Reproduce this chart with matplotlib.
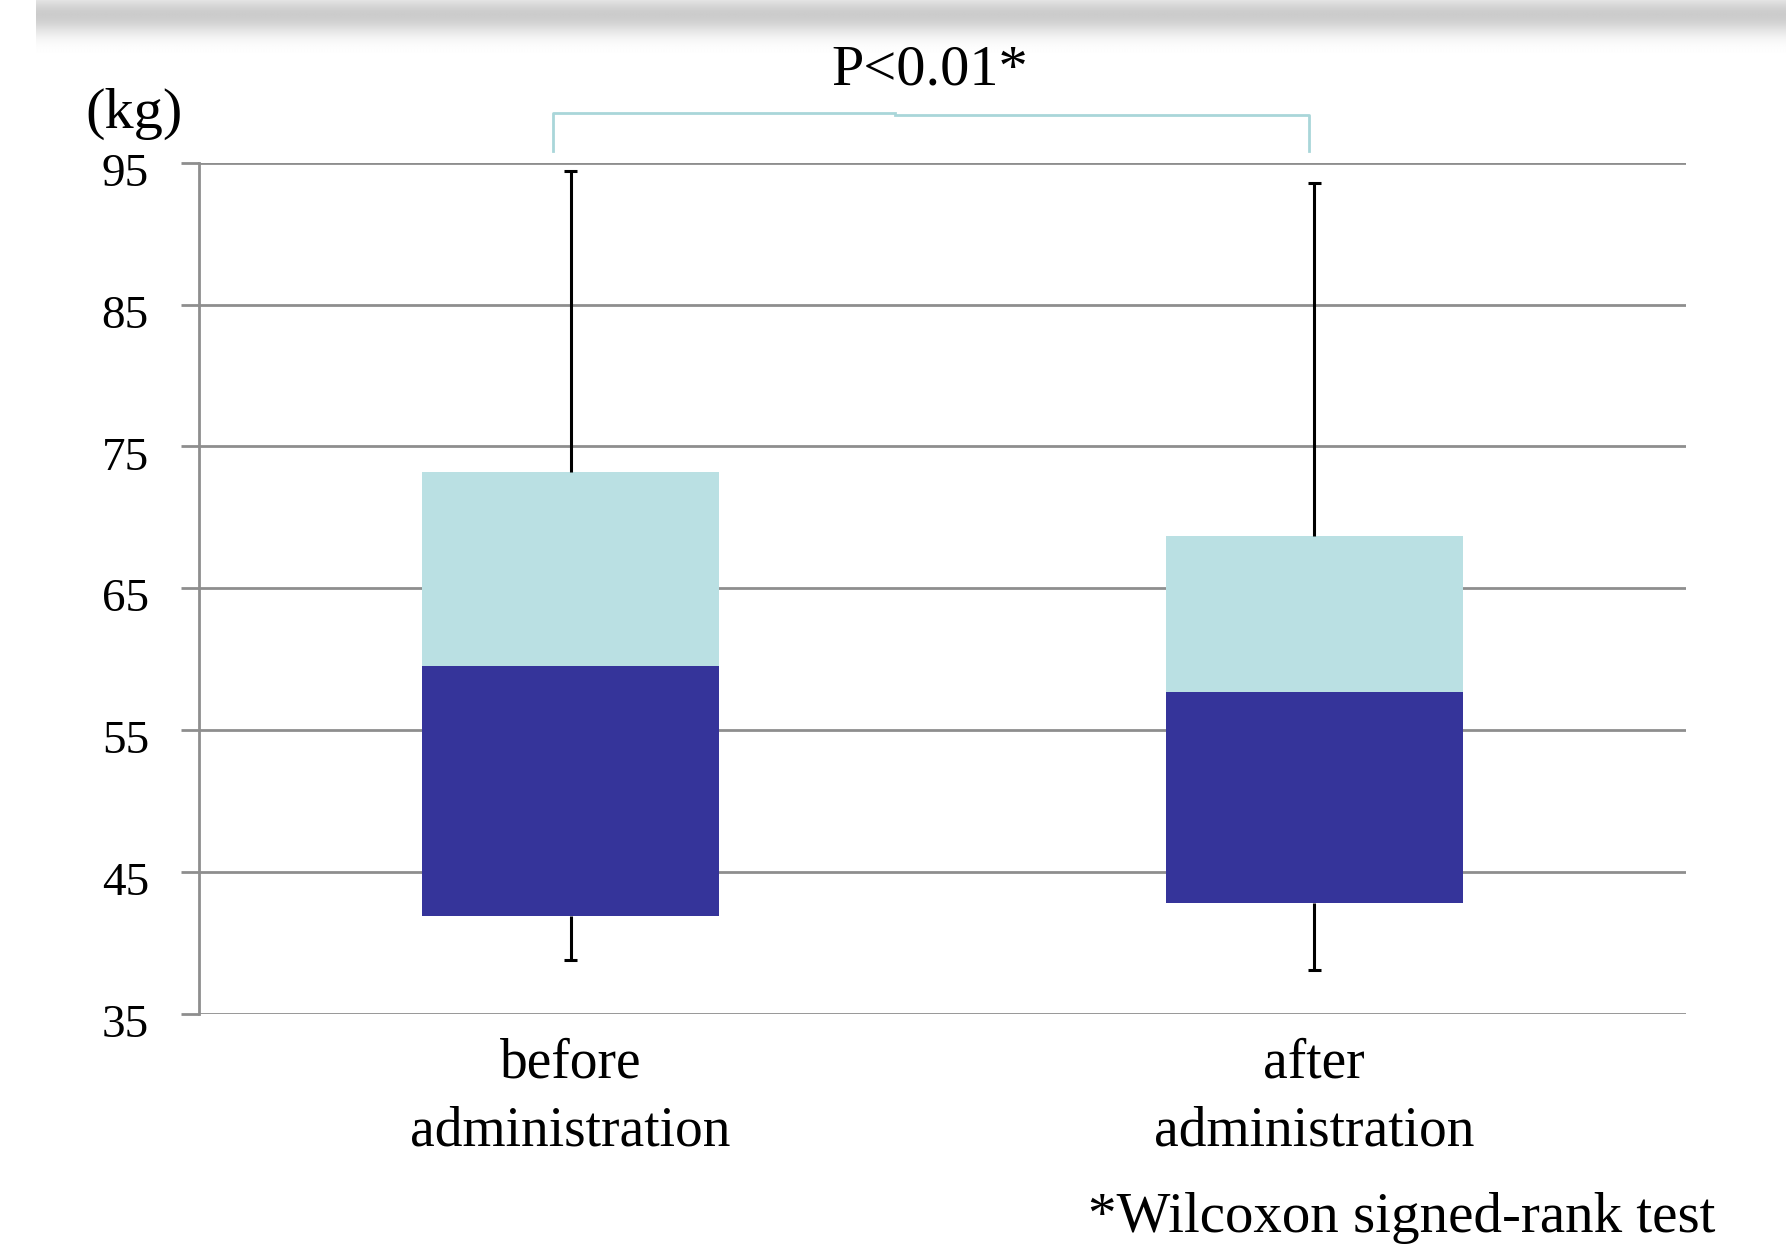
import matplotlib.pyplot as plt
import matplotlib.transforms as mtransforms
import numpy as np

# grip strength (kg) before / after administration
groups = ['before\nadministration', 'after\nadministration']
whisker_low = [38.8, 38.1]
q1 = [41.9, 42.8]
median = [59.5, 57.7]
q3 = [73.2, 68.7]
whisker_high = [94.4, 93.6]
yticks = [35, 45, 55, 65, 75, 85, 95]

dark = '#35349a'
light = '#bae0e3'
grid_gray = '#8e8e8e'

plt.rcParams['font.family'] = ['Liberation Serif', 'DejaVu Serif']

fig = plt.figure(figsize=(17.86, 12.45), dpi=100)
ax = fig.add_axes([0.1114, 0.1858, 0.8326, 0.6834])

x = np.arange(len(groups))
lower = np.array(median) - np.array(q1)
upper = np.array(q3) - np.array(median)
ax.bar(x, lower, bottom=q1, width=0.4, color=dark, zorder=3)
ax.bar(x, upper, bottom=median, width=0.4, color=light, zorder=3)

# whiskers with short caps
ax.vlines(x, q3, whisker_high, color='black', lw=2.2, zorder=4)
ax.vlines(x, whisker_low, q1, color='black', lw=2.2, zorder=4)
ax.hlines(whisker_high, x - 0.009, x + 0.009, color='black', lw=2.2, zorder=4)
ax.hlines(whisker_low, x - 0.009, x + 0.009, color='black', lw=2.2, zorder=4)

ax.set_xlim(-0.5, 1.5)
ax.set_ylim(35, 95)
ax.set_yticks(yticks)
ax.set_yticklabels([str(t) for t in yticks], fontsize=34)
ax.yaxis.grid(True, color=grid_gray, lw=2, zorder=0)
ax.tick_params(axis='y', length=13, width=2, color=grid_gray, pad=23)
# numerals sit a little below their grid lines
shift = mtransforms.ScaledTranslation(0, -5 / 72, fig.dpi_scale_trans)
for lab in ax.get_yticklabels():
    lab.set_transform(lab.get_transform() + shift)

ax.set_xticks(x)
ax.set_xticklabels(groups, fontsize=40, linespacing=1.4)
ax.tick_params(axis='x', length=0, pad=17)

for side in ['top', 'right', 'bottom']:
    ax.spines[side].set_visible(False)
ax.spines['left'].set_color(grid_gray)
ax.spines['left'].set_linewidth(2)

# significance bracket
bracket = '#a9d6d9'
ax.plot([x[0] - 0.024, x[0] - 0.024, 0.436], [95.84, 98.55, 98.55],
        color=bracket, lw=2, clip_on=False)
ax.plot([0.436, x[1] - 0.007, x[1] - 0.007], [98.4, 98.4, 95.84],
        color=bracket, lw=2, clip_on=False)
ax.text(0.483, 101.5, 'P<0.01*', fontsize=42, ha='center', va='center')
ax.text(-0.0437, 1.057, '(kg)', transform=ax.transAxes, fontsize=42,
        ha='center', va='center')

fig.text(0.609, 0.0104, '*Wilcoxon signed-rank test', fontsize=41,
         ha='left', va='baseline')

# soft grey band across the top edge
band = fig.add_axes([0.02, 1 - 60 / 1245, 0.98, 60 / 1245], zorder=-1)
rows = np.linspace(0, 1, 60)
shade = 1 - 0.2 * np.exp(-((rows - 0.25) / 0.32) ** 2)
band.imshow(np.tile(shade[:, None], (1, 200)), cmap='gray', vmin=0, vmax=1,
            aspect='auto', interpolation='bilinear')
band.axis('off')

fig.savefig('out.png', dpi=100)
